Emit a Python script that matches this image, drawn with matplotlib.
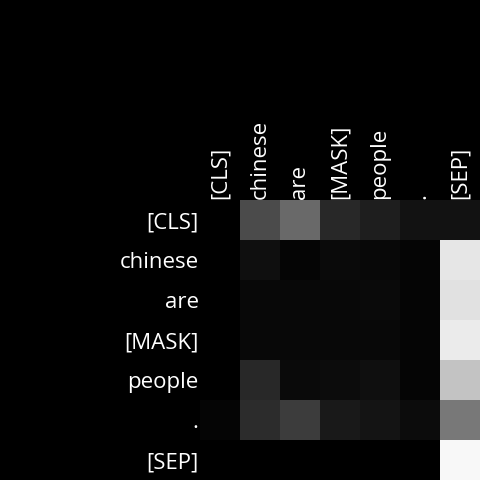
import numpy as np
import matplotlib.pyplot as plt

plt.rcParams['font.family'] = ['Open Sans', 'DejaVu Sans']

tokens = ["[CLS]", "chinese", "are", "[MASK]", "people", ".", "[SEP]"]
# attention weights read as grey levels (0-255)
attn = np.array([
    [0, 75, 105, 40, 30, 18, 18],
    [0, 15, 5, 10, 8, 5, 230],
    [0, 8, 8, 8, 10, 5, 225],
    [0, 8, 8, 8, 8, 5, 235],
    [0, 40, 10, 12, 15, 5, 195],
    [5, 45, 60, 25, 20, 12, 120],
    [0, 0, 0, 0, 0, 0, 248],
]) / 255.0

fig = plt.figure(figsize=(4.8, 4.8), dpi=100, facecolor="black")
ax = fig.add_axes([200 / 480, 0, 280 / 480, 280 / 480])
ax.imshow(attn, cmap="gray", vmin=0, vmax=1, aspect="auto")
ax.set_facecolor("black")
ax.set_xticks(range(len(tokens)))
ax.set_yticks(range(len(tokens)))
ax.set_xticklabels(tokens, rotation=90, color="white", fontsize=16)
ax.set_yticklabels(tokens, color="white", fontsize=16)
ax.xaxis.tick_top()
ax.tick_params(length=0, pad=1)
for s in ax.spines.values():
    s.set_visible(False)

fig.savefig("out.png", dpi=100, facecolor="black")
